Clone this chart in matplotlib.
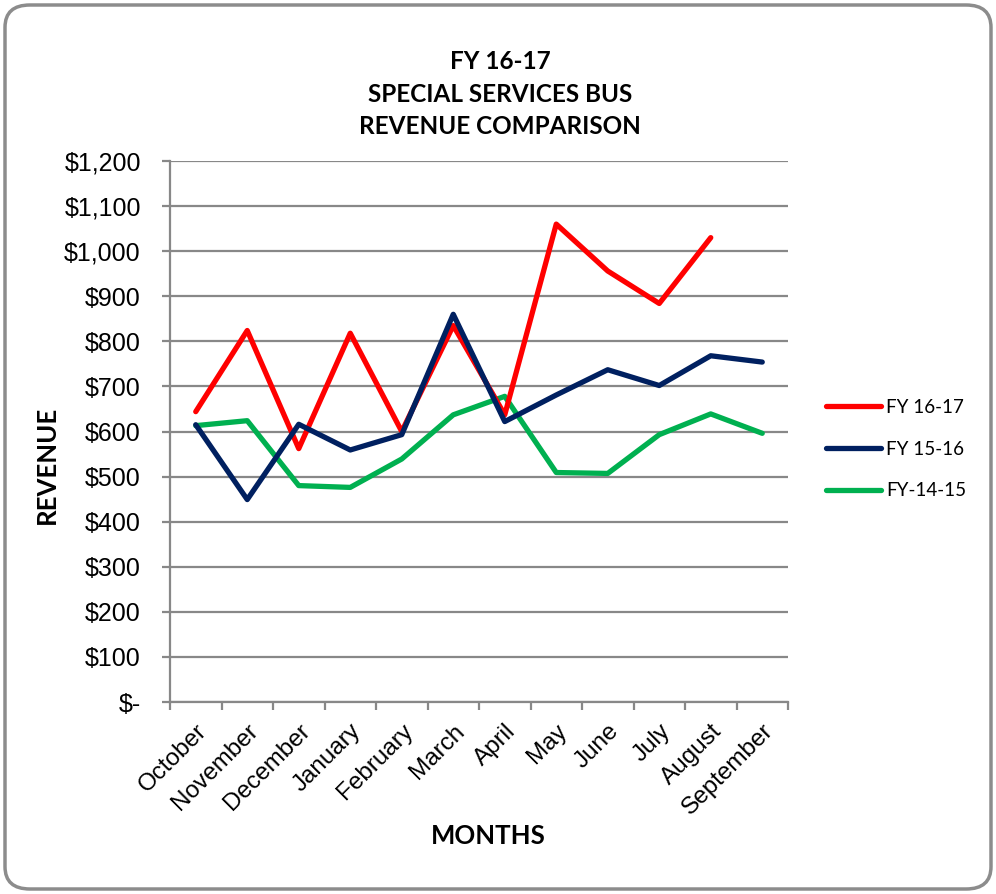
import matplotlib
matplotlib.use("Agg")
import matplotlib.pyplot as plt
from matplotlib.patches import FancyBboxPatch
from matplotlib.ticker import FixedLocator

months = ["October", "November", "December", "January", "February", "March",
          "April", "May", "June", "July", "August", "September"]
fy1617 = [644, 824, 562, 818, 600, 835, 637, 1060, 956, 884, 1030]
fy1516 = [615, 449, 616, 559, 593, 860, 622, 681, 737, 702, 768, 754]
fy1415 = [613, 624, 480, 476, 539, 637, 678, 509, 507, 593, 639, 596]
series_names = ["FY 16-17", "FY 15-16", "FY-14-15"]
y_ticks = [0, 100, 200, 300, 400, 500, 600, 700, 800, 900, 1000, 1100, 1200]
y_tick_labels = ["$-", "$100", "$200", "$300", "$400", "$500", "$600", "$700",
                 "$800", "$900", "$1,000", "$1,100", "$1,200"]

W, H = 996, 894
fig = plt.figure(figsize=(W / 100, H / 100), dpi=100)
fig.patch.set_facecolor("white")

# rounded border
border = FancyBboxPatch((5 / W, 5 / H), (W - 10) / W, (H - 10) / H,
                        boxstyle="round,pad=0,rounding_size=0.025",
                        transform=fig.transFigure, facecolor="none",
                        edgecolor="#8c8c8c", linewidth=2.5, zorder=-1)
fig.patches.append(border)

ax = fig.add_axes([170 / W, 1 - 702 / H, (788 - 170) / W, (702 - 161) / H])
ax.set_facecolor("none")

gray = "#888888"
x = list(range(len(months)))
ax.plot(x[:len(fy1617)], fy1617, color="#FF0000", lw=3.8, solid_capstyle="round",
        solid_joinstyle="round", label=series_names[0], zorder=3)
ax.plot(x, fy1516, color="#002060", lw=3.8, solid_capstyle="round",
        solid_joinstyle="round", label=series_names[1], zorder=4)
ax.plot(x, fy1415, color="#00B050", lw=3.8, solid_capstyle="round",
        solid_joinstyle="round", label=series_names[2], zorder=2)

ax.set_xlim(-0.5, len(months) - 0.5)
ax.set_ylim(0, 1200)
ax.set_yticks(y_ticks)
ax.set_yticklabels(y_tick_labels, fontfamily="Liberation Sans", fontsize=18)
ax.yaxis.grid(True, color=gray, lw=1.6)
ax.set_axisbelow(True)

ax.set_xticks(x)
ax.set_xticklabels(months, rotation=45, ha="right", rotation_mode="anchor",
                   fontfamily="Liberation Sans", fontsize=17.5)
ax.tick_params(axis="x", which="major", length=0, pad=13)
ax.xaxis.set_minor_locator(FixedLocator([i - 0.5 for i in range(len(months) + 1)]))
ax.tick_params(axis="x", which="minor", length=6, color=gray, width=1.6, direction="out")
ax.tick_params(axis="y", which="major", length=6, color=gray, width=1.6, pad=15)

for s in ["top", "right"]:
    ax.spines[s].set_visible(False)
for s in ["left", "bottom"]:
    ax.spines[s].set_color(gray)
    ax.spines[s].set_linewidth(1.6)

fig.text(500 / W, 1 - 94 / H, "FY 16-17\nSPECIAL SERVICES BUS\nREVENUE COMPARISON",
         ha="center", va="center", fontfamily="Lato", fontweight="bold",
         fontsize=17.5, linespacing=1.5)
fig.text(47 / W, 1 - 465 / H, "REVENUE", rotation=90, ha="center", va="center",
         fontfamily="Lato", fontweight="bold", fontsize=18.5)
fig.text(488 / W, 1 - 836 / H, "MONTHS", ha="center", va="center",
         fontfamily="Lato", fontweight="bold", fontsize=18.5)

leg = ax.legend(loc="center left", bbox_to_anchor=(826 / W, 1 - 449 / H),
                bbox_transform=fig.transFigure, frameon=False,
                prop={"family": "Lato", "size": 13.5}, handlelength=2.95,
                handletextpad=0.27, labelspacing=1.33, borderaxespad=0,
                borderpad=0)

fig.savefig("out.png", dpi=100, facecolor="white")
